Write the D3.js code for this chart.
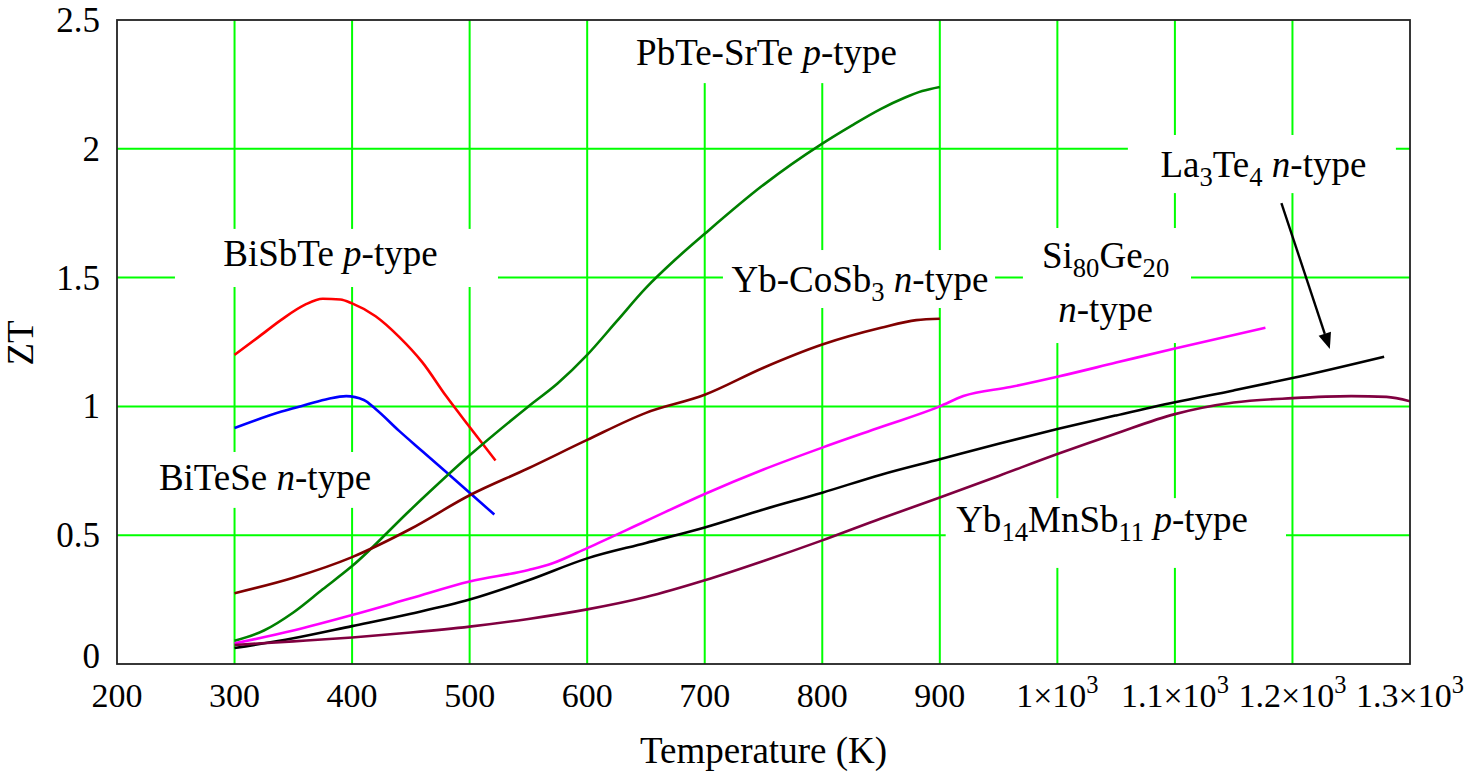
<!DOCTYPE html>
<html><head><meta charset="utf-8">
<script src="https://cdn.jsdelivr.net/npm/d3@7"></script>
<style>
html,body{margin:0;padding:0;background:#fff;}
svg text{font-family:"Liberation Serif","Times New Roman",serif;fill:#000;}
</style></head>
<body><svg id="c" width="1466" height="773"></svg>
<script>
// ---- data ----
const xTicks = [200,300,400,500,600,700,800,900,1000,1100,1200,1300];
const xTickLabels = ["200","300","400","500","600","700","800","900","1×10^3","1.1×10^3","1.2×10^3","1.3×10^3"];
const yTicks = [0,0.5,1,1.5,2,2.5];
const yTickLabels = ["0","0.5","1","1.5","2","2.5"];

const bisbteT  = [300,320,340,360,375,390,400,420,440,460,480,500,522];
const bisbteZT = [1.20,1.268,1.337,1.395,1.418,1.415,1.40,1.35,1.27,1.17,1.04,0.92,0.79];

const biteseT  = [300,340,360,380,395,410,420,440,460,480,500,521];
const biteseZT = [0.916,0.98,1.005,1.03,1.04,1.025,0.99,0.905,0.825,0.745,0.665,0.58];

const pbteT  = [300,325,350,375,400,450,500,550,575,600,625,650,675,700,750,800,825,850,870,885,900];
const pbteZT = [0.09,0.13,0.20,0.29,0.38,0.60,0.81,1.0,1.09,1.20,1.33,1.46,1.57,1.67,1.86,2.02,2.09,2.155,2.198,2.224,2.24];

const ybcosbT  = [300,350,400,450,500,550,600,650,700,750,800,850,880,900];
const ybcosbZT = [0.275,0.335,0.415,0.525,0.655,0.76,0.87,0.975,1.045,1.15,1.24,1.305,1.335,1.34];

const sigeT  = [300,350,400,450,500,550,570,600,650,700,750,800,850,900,920,960,1000,1050,1100,1177];
const sigeZT = [0.08,0.13,0.19,0.255,0.32,0.365,0.39,0.45,0.555,0.66,0.755,0.84,0.92,1.0,1.04,1.075,1.115,1.17,1.225,1.305];

const la3te4T  = [300,350,400,450,500,550,600,650,700,750,800,850,900,950,1000,1050,1100,1150,1200,1278];
const la3te4ZT = [0.062,0.10,0.147,0.195,0.25,0.325,0.41,0.47,0.53,0.60,0.665,0.735,0.795,0.855,0.912,0.965,1.016,1.062,1.11,1.193];

const ybmnsbT  = [300,350,400,450,500,550,600,650,700,750,800,850,900,950,1000,1050,1100,1150,1200,1250,1280,1300];
const ybmnsbZT = [0.074,0.088,0.103,0.122,0.145,0.175,0.212,0.26,0.325,0.40,0.48,0.565,0.646,0.73,0.815,0.895,0.97,1.015,1.032,1.04,1.037,1.02];

const seriesNames  = ["BiSbTe","BiTeSe","PbTe-SrTe","Yb-CoSb3","Si80Ge20","La3Te4","Yb14MnSb11"];
const seriesColors = ["#ff0000","#0000ff","#008000","#800000","#ff00ff","#000000","#800040"];
const seriesT  = [bisbteT,biteseT,pbteT,ybcosbT,sigeT,la3te4T,ybmnsbT];
const seriesZT = [bisbteZT,biteseZT,pbteZT,ybcosbZT,sigeZT,la3te4ZT,ybmnsbZT];

// annotation labels: parts [text, style] where style: n normal, i italic, s subscript
const labels = [
  {lines:[[["PbTe-SrTe ","n"],["p","i"],["-type","n"]]], T:752.6, Z:[2.325], box:[632,873,2.255,2.5]},
  {lines:[[["Yb-CoSb","n"],["3","s"],[" ","n"],["n","i"],["-type","n"]]], T:832, Z:[1.444], box:[715.5,947,1.382,1.607]},
  {lines:[[["BiSbTe ","n"],["p","i"],["-type","n"]]], T:381.6, Z:[1.545], box:[249.3,524.1,1.4635,1.689]},
  {lines:[[["BiTeSe ","n"],["n","i"],["-type","n"]]], T:325.9, Z:[0.6755], box:[228,424,0.606,0.823]},
  {lines:[[["Si","n"],["80","s"],["Ge","n"],["20","s"]],[["n","i"],["-type","n"]]], T:1041, Z:[1.537,1.328], box:[970.7,1113.7,1.246,1.6925]},
  {lines:[[["La","n"],["3","s"],["Te","n"],["4","s"],[" ","n"],["n","i"],["-type","n"]]], T:1175.3, Z:[1.8905], box:[1060,1288,1.828,2.0536]},
  {lines:[[["Yb","n"],["14","s"],["MnSb","n"],["11","s"],[" ","n"],["p","i"],["-type","n"]]], T:1038, Z:[0.512], box:[905,1194.5,0.373,0.644]}
];
const arrowFrom = [1190.6,1.789], arrowTo = [1231.8,1.223];

// ---- layout ----
const L=117, R=1410, T0=20, B=664;
const fs = 37, fsX = 34, fsY = 35;
const svg = d3.select("#c");
const x = d3.scaleLinear().domain([200,1300]).range([L,R]);
const y = d3.scaleLinear().domain([0,2.5]).range([B,T0]);

svg.append("defs").append("clipPath").attr("id","clip")
  .append("rect").attr("x",L).attr("y",T0).attr("width",R-L).attr("height",B-T0);

// grid
const g = svg.append("g");
g.selectAll(".vg").data(xTicks.slice(1,-1)).join("line")
  .attr("x1",d=>x(d)).attr("x2",d=>x(d)).attr("y1",T0).attr("y2",B)
  .attr("stroke","#00ff00").attr("stroke-width",2);
g.selectAll(".hg").data(yTicks.slice(1,-1)).join("line")
  .attr("y1",d=>y(d)).attr("y2",d=>y(d)).attr("x1",L).attr("x2",R)
  .attr("stroke","#00ff00").attr("stroke-width",2);

// label boxes
svg.append("g").attr("clip-path","url(#clip)").selectAll("rect").data(labels).join("rect")
  .attr("x",d=>x(d.box[0])).attr("width",d=>x(d.box[1])-x(d.box[0]))
  .attr("y",d=>y(d.box[3])).attr("height",d=>y(d.box[2])-y(d.box[3]))
  .attr("fill","#fff");

// curves
const line = d3.line().x(d=>x(d[0])).y(d=>y(d[1])).curve(d3.curveMonotoneX);
svg.append("g").attr("clip-path","url(#clip)").selectAll("path").data(seriesNames).join("path")
  .attr("d",(d,i)=>line(seriesT[i].map((t,j)=>[t,seriesZT[i][j]])))
  .attr("fill","none").attr("stroke",(d,i)=>seriesColors[i]).attr("stroke-width",2.6)
  .attr("stroke-linejoin","round");

// label texts
labels.forEach(lb=>{
  lb.lines.forEach((parts,li)=>{
    const t = svg.append("text").attr("x",x(lb.T)).attr("y",y(lb.Z[li]))
      .attr("text-anchor","middle").attr("font-size",fs);
    let prevSub=false;
    parts.forEach(p=>{
      const ts = t.append("tspan").text(p[0]);
      if(p[1]==="i") ts.attr("font-style","italic");
      if(p[1]==="s"){ ts.attr("font-size",fs*0.72).attr("dy", prevSub?0:fs*0.24); prevSub=true; }
      else { if(prevSub) ts.attr("dy",-fs*0.24); prevSub=false; }
    });
  });
});

// arrow
const ax0=x(arrowFrom[0]), ay0=y(arrowFrom[1]), ax1=x(arrowTo[0]), ay1=y(arrowTo[1]);
const ang=Math.atan2(ay1-ay0,ax1-ax0), hl=16, hw=6.5;
const bx=ax1-hl*Math.cos(ang), by=ay1-hl*Math.sin(ang);
svg.append("line").attr("x1",ax0).attr("y1",ay0).attr("x2",bx).attr("y2",by)
  .attr("stroke","#000").attr("stroke-width",2.4);
svg.append("path").attr("d",`M${ax1},${ay1}L${bx+hw*Math.sin(ang)},${by-hw*Math.cos(ang)}L${bx-hw*Math.sin(ang)},${by+hw*Math.cos(ang)}Z`)
  .attr("fill","#000");

// frame
svg.append("rect").attr("x",L).attr("y",T0).attr("width",R-L).attr("height",B-T0)
  .attr("fill","none").attr("stroke","#222").attr("stroke-width",1.8);

// x tick labels
xTicks.forEach((v,i)=>{
  const s = xTickLabels[i];
  const t = svg.append("text").attr("x",x(v)).attr("y",707).attr("text-anchor","middle").attr("font-size",fsX);
  if(s.includes("^")){
    const [base,exp]=s.split("^");
    t.append("tspan").text(base);
    t.append("tspan").text(exp).attr("font-size",fsX*0.72).attr("dy",-fsX*0.4);
  } else t.text(s);
});
// y tick labels
yTicks.forEach((v,i)=>{
  svg.append("text").attr("x",100).attr("y",y(v)+12 - (v===0?8:0)).attr("text-anchor","end")
    .attr("font-size",fsY).text(yTickLabels[i]);
});
// axis titles
svg.append("text").attr("x",(L+R)/2).attr("y",763).attr("text-anchor","middle").attr("font-size",fs).text("Temperature (K)");
svg.append("text").attr("transform","translate(33,343) rotate(-90)").attr("text-anchor","middle").attr("font-size",fs).text("ZT");
</script></body></html>
